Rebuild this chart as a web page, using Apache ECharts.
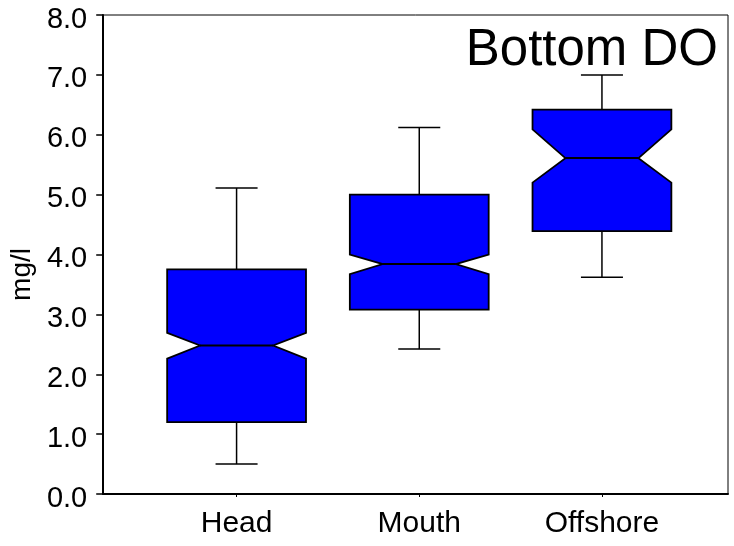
<!DOCTYPE html>
<html>
<head>
<meta charset="utf-8">
<script src="https://cdn.jsdelivr.net/npm/echarts@6/dist/echarts.min.js"></script>
<style>
html,body{margin:0;padding:0;background:#fff;}
#chart{width:734px;height:546px;}
</style>
</head>
<body>
<div id="chart"></div>
<script>
// Data
var categories  = ['Head', 'Mouth', 'Offshore'];
var whiskerLow  = [0.50, 2.42, 3.62];
var q1          = [1.20, 3.08, 4.39];
var median      = [2.48, 3.84, 5.61];
var q3          = [3.75, 5.00, 6.42];
var whiskerHigh = [5.11, 6.12, 7.00];
var notchLow    = [2.26, 3.67, 5.20];
var notchHigh   = [2.69, 4.00, 6.09];
var yTicks      = [0, 1, 2, 3, 4, 5, 6, 7, 8];

var FONT = 'Liberation Sans, Arial, sans-serif';
var BOX_HALF = 0.38, NOTCH_HALF = 0.20, CAP_HALF = 0.115;

var seriesData = categories.map(function (c, i) {
  return [i + 1, whiskerLow[i], q1[i], median[i], q3[i], whiskerHigh[i], notchLow[i], notchHigh[i]];
});

function renderItem(params, api) {
  var x = api.value(0);
  var wl = api.value(1), lo = api.value(2), md = api.value(3), hi = api.value(4),
      wh = api.value(5), nl = api.value(6), nh = api.value(7);
  function P(dx, v) { return api.coord([x + dx, v]); }
  var poly = [
    P(-BOX_HALF, hi), P(BOX_HALF, hi), P(BOX_HALF, nh), P(NOTCH_HALF, md),
    P(BOX_HALF, nl), P(BOX_HALF, lo), P(-BOX_HALF, lo), P(-BOX_HALF, nl),
    P(-NOTCH_HALF, md), P(-BOX_HALF, nh)
  ];
  function seg(a, b, w) {
    return { type: 'line', shape: { x1: a[0], y1: a[1], x2: b[0], y2: b[1] },
             style: { stroke: '#000', lineWidth: w || 1.5 } };
  }
  return {
    type: 'group',
    children: [
      seg(P(0, hi), P(0, wh)),
      seg(P(-CAP_HALF, wh), P(CAP_HALF, wh)),
      seg(P(0, lo), P(0, wl)),
      seg(P(-CAP_HALF, wl), P(CAP_HALF, wl)),
      { type: 'polygon', shape: { points: poly },
        style: { fill: '#0000ff', stroke: '#000', lineWidth: 1.8 } },
      seg(P(-NOTCH_HALF, md), P(NOTCH_HALF, md), 2)
    ]
  };
}

var chart = echarts.init(document.getElementById('chart'), null, { renderer: 'canvas' });
chart.setOption({
  animation: false,
  backgroundColor: '#fff',
  title: {
    text: 'Bottom DO',
    right: 11, top: 20,
    textStyle: { fontFamily: FONT, fontSize: 51, fontWeight: 'normal', color: '#000' }
  },
  grid: {
    left: 99, right: 6, top: 15, bottom: 52,
    show: true, borderColor: '#000', borderWidth: 1, backgroundColor: 'transparent'
  },
  xAxis: {
    type: 'value', min: 0.27, max: 3.69,
    splitLine: { show: false },
    axisLine: { show: true, lineStyle: { color: '#000', width: 2 } },
    axisTick: { show: true, customValues: [1, 2, 3], length: 3, lineStyle: { color: '#000', width: 1 } },
    axisLabel: {
      customValues: [1, 2, 3], margin: 15,
      formatter: function (v) { return categories[Math.round(v) - 1] || ''; },
      fontFamily: FONT, fontSize: 30, color: '#000'
    }
  },
  yAxis: {
    type: 'value', min: 0, max: 8, interval: 1,
    name: 'mg/l', nameLocation: 'middle', nameRotate: 90, nameGap: 66,
    nameTextStyle: { fontFamily: FONT, fontSize: 28, color: '#000', padding: [0, 0, 0, -40] },
    splitLine: { show: false },
    axisLine: { show: true, lineStyle: { color: '#000', width: 2 } },
    axisTick: { show: true, length: 7, lineStyle: { color: '#000', width: 1.5 } },
    axisLabel: {
      margin: 16,
      customValues: yTicks,
      formatter: function (v) { return '{t|' + v.toFixed(1) + '}'; },
      rich: { t: { fontFamily: FONT, fontSize: 29, color: '#000', padding: [9, 0, 0, 0] } },
      fontFamily: FONT, fontSize: 29, color: '#000'
    }
  },
  series: [{
    type: 'custom',
    renderItem: renderItem,
    encode: { x: 0, y: [1, 2, 3, 4, 5, 6, 7] },
    data: seriesData,
    clip: false
  }]
});
</script>
</body>
</html>
